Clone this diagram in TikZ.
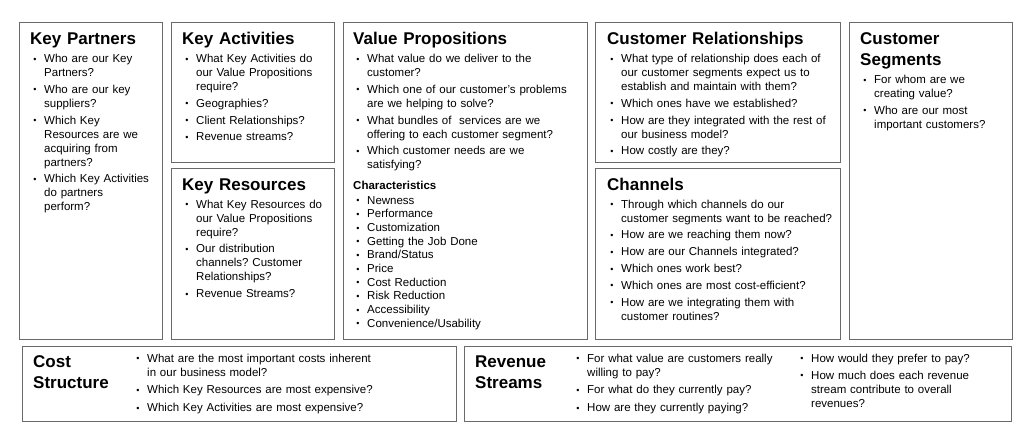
\documentclass[tikz,border=0pt]{standalone}
\usepackage{fontspec}
\setmainfont{Liberation Sans}
\frenchspacing
\definecolor{boxgray}{HTML}{6A6A6A}
\newlength\hangw \newlength\bulx \newlength\itmgap
\setlength\hangw{14pt}\setlength\bulx{3.2pt}\setlength\itmgap{2.8pt}
\newcommand\bulsym{{\fontsize{9pt}{9pt}\selectfont\raisebox{0.4pt}{•}}}
\newcommand\bfirst[1]{\hangindent=\hangw\hangafter=1\noindent\makebox[\hangw][l]{\hspace{\bulx}\bulsym}#1\par}
\newcommand\bitem[1]{\vspace{\itmgap}\bfirst{#1}}
\tikzset{
  box/.style={draw=boxgray, line width=1.2pt, anchor=north west, inner sep=0pt, fill=white},
  ttl/.style={anchor=base west, inner sep=0pt, text width=300pt, align=left,
    font=\fontsize{17pt}{21pt}\selectfont\bfseries\frenchspacing},
  lst/.style={anchor=base west, inner sep=0pt, text width=300pt, align=left,
    font=\fontsize{11.5pt}{14pt}\selectfont\frenchspacing},
  chl/.style={anchor=base west, inner sep=0pt, text width=300pt, align=left,
    font=\fontsize{11.5pt}{13.7pt}\selectfont},
  sub/.style={anchor=base west, inner sep=0pt, font=\fontsize{11.5pt}{13.7pt}\selectfont\bfseries}
}
\begin{document}
\begin{tikzpicture}[x=1pt,y=-1pt]
\useasboundingbox[fill=white] (0,0) rectangle (1024,444);
% boxes
\node[box, minimum width=143pt, minimum height=317pt] (kp) at (19,22) {};
\node[box, minimum width=163pt, minimum height=140pt] (ka) at (171,22) {};
\node[box, minimum width=163pt, minimum height=171pt] (kr) at (171,168) {};
\node[box, minimum width=244pt, minimum height=317pt] (vp) at (343,22) {};
\node[box, minimum width=245pt, minimum height=140pt] (cr) at (595,22) {};
\node[box, minimum width=245pt, minimum height=171pt] (ch) at (595,168) {};
\node[box, minimum width=163pt, minimum height=317pt] (cs) at (849,22) {};
\node[box, minimum width=434pt, minimum height=75pt] (cost) at (22,346) {};
\node[box, minimum width=547pt, minimum height=75pt] (rev) at (464,346) {};
% Key Partners
\node[ttl] (kpt) at (30,44.5) {Key Partners};
\node[lst] (kpl) at (30,62.5) {\bfirst{Who are our Key\newline Partners?}
\bitem{Who are our key\newline suppliers?}
\bitem{Which Key\newline Resources are we\newline acquiring from\newline partners?}
\bitem{Which Key Activities\newline do partners\newline perform?}};
% Key Activities
\node[ttl] (kat) at (182,44.5) {Key Activities};
\node[lst] (kal) at (182,62.5) {\bfirst{What Key Activities do\newline our Value Propositions\newline require?}
\bitem{Geographies?}
\bitem{Client Relationships?}
\bitem{Revenue streams?}};
% Key Resources
\node[ttl] (krt) at (182,190) {Key Resources};
\node[lst] (krl) at (182,208) {\bfirst{What Key Resources do\newline our Value Propositions\newline require?}
\bitem{Our distribution\newline channels? Customer\newline Relationships?}
\bitem{Revenue Streams?}};
% Value Propositions
\node[ttl] (vpt) at (353,44.5) {Value Propositions};
\node[lst] (vpl) at (353,62.5) {\bfirst{What value do we deliver to the\newline customer?}
\bitem{Which one of our customer’s problems\newline are we helping to solve?}
\bitem{What bundles of\ \ services are we\newline offering to each customer segment?}
\bitem{Which customer needs are we\newline satisfying?}};
\node[sub] (vpc) at (353,189) {Characteristics};
\node[chl] (vpcl) at (353,204) {\setlength\itmgap{0pt}\bfirst{Newness}
\bitem{Performance}
\bitem{Customization}
\bitem{Getting the Job Done}
\bitem{Brand/Status}
\bitem{Price}
\bitem{Cost Reduction}
\bitem{Risk Reduction}
\bitem{Accessibility}
\bitem{Convenience/Usability}};
% Customer Relationships
\node[ttl] (crt) at (607,44.5) {Customer Relationships};
\node[lst] (crl) at (607,62.5) {\bfirst{What type of relationship does each of\newline our customer segments expect us to\newline establish and maintain with them?}
\bitem{Which ones have we established?}
\bitem{How are they integrated with the rest of\newline our business model?}
\bitem{How costly are they?}};
% Channels
\node[ttl] (cht) at (607,190) {Channels};
\node[lst] (chl) at (607,208) {\bfirst{Through which channels do our\newline customer segments want to be reached?}
\bitem{How are we reaching them now?}
\bitem{How are our Channels integrated?}
\bitem{Which ones work best?}
\bitem{Which ones are most cost-efficient?}
\bitem{How are we integrating them with\newline customer routines?}};
% Customer Segments
\node[ttl] (cst) at (860,44.5) {Customer\newline Segments};
\node[lst] (csl) at (860,83.5) {\bfirst{For whom are we\newline creating value?}
\bitem{Who are our most\newline important customers?}};
% Cost Structure
\node[ttl] (costt) at (33,367) {\fontsize{17pt}{21.5pt}\selectfont Cost\newline Structure};
\node[lst] (costl) at (133,362) {\setlength\itmgap{3.8pt}\bfirst{What are the most important costs inherent\newline in our business model?}
\bitem{Which Key Resources are most expensive?}
\bitem{Which Key Activities are most expensive?}};
% Revenue Streams
\node[ttl] (revt) at (475,367) {\fontsize{17pt}{21.5pt}\selectfont Revenue\newline Streams};
\node[lst] (revl) at (573,362) {\setlength\itmgap{3.8pt}\bfirst{For what value are customers really\newline willing to pay?}
\bitem{For what do they currently pay?}
\bitem{How are they currently paying?}};
\node[lst] (revr) at (797,362) {\setlength\itmgap{3.2pt}\bfirst{How would they prefer to pay?}
\bitem{How much does each revenue\newline stream contribute to overall\newline revenues?}};
\end{tikzpicture}
\end{document}
